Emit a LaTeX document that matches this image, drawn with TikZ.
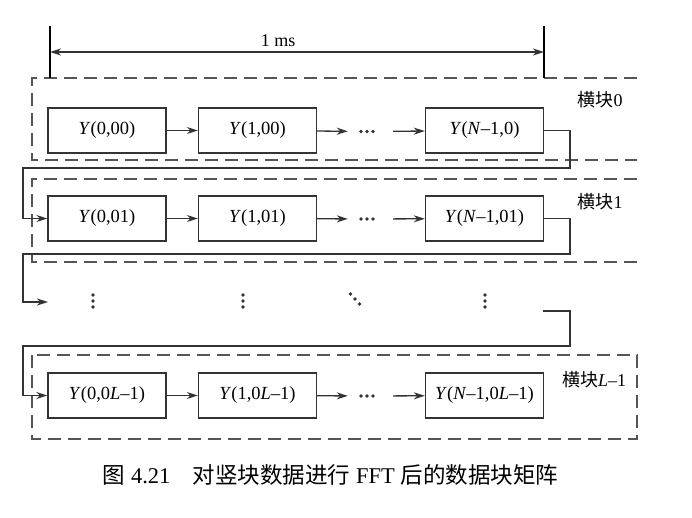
\documentclass[tikz,border=0pt]{standalone}
\usepackage{fontspec}
\setmainfont{Liberation Serif}
\newfontfamily\cjk{Noto Sans CJK SC}
\usetikzlibrary{arrows.meta}
\definecolor{lineclr}{HTML}{333333}
\definecolor{dashclr}{HTML}{555555}
\begin{document}
\begin{tikzpicture}[x=1pt,y=-1pt,
  blk/.style={draw=lineclr,line width=1.4pt,minimum width=118pt,minimum height=45pt,inner sep=0pt,font=\fontsize{18.5}{20}\selectfont},
  arr/.style={draw=lineclr,line width=1.3pt,-{Stealth[length=11pt,width=7pt,inset=3.5pt]}},
  conn/.style={draw=lineclr,line width=1.3pt},
  dbox/.style={draw=dashclr,line width=1.3pt,dash pattern=on 13pt off 7pt},
  lbl/.style={inner sep=0pt,font=\fontsize{18}{20}\selectfont},
  dotsnode/.style={minimum width=45pt,minimum height=10pt,inner sep=0pt}
]
\useasboundingbox (0,0) rectangle (692,517);

% dashed groups
\draw[dbox] (637,78) -- (32,78) -- (32,160) -- (637,160);
\draw[dbox] (637,179) -- (32,179) -- (32,262) -- (637,262);
\draw[dbox] (32,355) rectangle (637,439);

% dimension line
\coordinate (t0a) at (50,26); \coordinate (t0b) at (50,78);
\coordinate (t1a) at (544,26); \coordinate (t1b) at (544,78);
\coordinate (m0) at (50,52); \coordinate (m1) at (544,52);
\draw[conn,line width=1.4pt,draw=black] (t0a) -- (t0b);
\draw[conn,line width=1.4pt,draw=black] (t1a) -- (t1b);
\draw[conn,{Stealth[length=11pt,width=7pt,inset=3.5pt]}-{Stealth[length=11pt,width=7pt,inset=3.5pt]}] (m0) -- (m1);
\node[lbl] (ms) at (278,41) {1 ms};

% row 0
\node[blk] (a0) at (107,130.5) {\textit{Y}(0,00)};
\node[blk] (a1) at (257.5,130.5) {\textit{Y}(1,00)};
\node[dotsnode] (d0) at (370.5,131.5) {};
\node[blk] (a2) at (484.5,130.5) {\textit{Y}(\textit{N}–1,0)};
\node[lbl] (g0) at (600,100) {{\cjk 横块}0};

% row 1
\node[blk] (b0) at (107,218.5) {\textit{Y}(0,01)};
\node[blk] (b1) at (257.5,218.5) {\textit{Y}(1,01)};
\node[dotsnode] (d1) at (370.5,219) {};
\node[blk] (b2) at (484.5,218.5) {\textit{Y}(\textit{N}–1,01)};
\node[lbl] (g1) at (600,202) {{\cjk 横块}1};

% row L-1
\node[blk] (c0) at (107,395.5) {\textit{Y}(0,0\textit{L}–1)};
\node[blk] (c1) at (257.5,395.5) {\textit{Y}(1,0\textit{L}–1)};
\node[dotsnode] (d2) at (370.5,396) {};
\node[blk] (c2) at (484.5,395.5) {\textit{Y}(\textit{N}–1,0\textit{L}–1)};
\node[lbl] (g2) at (594,380) {{\cjk 横块}\textit{L}–1};

% horizontal dots
\foreach \n in {d0,d1,d2}{
  \foreach \s in {-9.5,-3.5,2.5}{
    \fill[lineclr] ([xshift=\s pt]\n.center) circle (1.8pt);
  }
}

% vertical / diagonal dots row
\coordinate (v0) at (93,301);
\coordinate (v1) at (243,301);
\coordinate (v2) at (485,301);
\coordinate (v3) at (355,299);
\foreach \n in {v0,v1,v2}{
  \foreach \s in {-6,0,6}{
    \fill[lineclr] ([yshift=\s pt]\n) circle (1.8pt);
  }
}
\foreach \s in {-1,0,1}{
  \fill[lineclr] ([xshift=\s*4.5pt,yshift=-\s*5pt]v3) circle (1.8pt);
}

% row arrows
\draw[arr] (a0) -- (a1);
\draw[arr] (a1) -- (d0);
\draw[arr] (d0) -- (a2);
\draw[arr] (b0) -- (b1);
\draw[arr] (b1) -- (d1);
\draw[arr] (d1) -- (b2);
\draw[arr] (c0) -- (c1);
\draw[arr] (c1) -- (d2);
\draw[arr] (d2) -- (c2);

% loop connectors
\coordinate (r0) at (570,168); \coordinate (l0) at (23,168);
\draw[arr] (a2.east) -| (r0) -- (l0) |- (b0.west);
\coordinate (r1) at (570,254); \coordinate (l1) at (23,254);
\coordinate (e1) at (48,302);
\draw[arr] (b2.east) -| (r1) -- (l1) |- (e1);
\coordinate (s2) at (543,311);
\coordinate (r2) at (570,346); \coordinate (l2) at (23,346);
\draw[arr] (s2) -| (r2) -- (l2) |- (c0.west);

% caption
\node[inner sep=0pt,font=\fontsize{22.5}{24}\selectfont] (cap) at (330.5,475)
  {{\cjk 图} 4.21\hspace{1em}{\cjk 对竖块数据进行} FFT {\cjk 后的数据块矩阵}};
\end{tikzpicture}
\end{document}
